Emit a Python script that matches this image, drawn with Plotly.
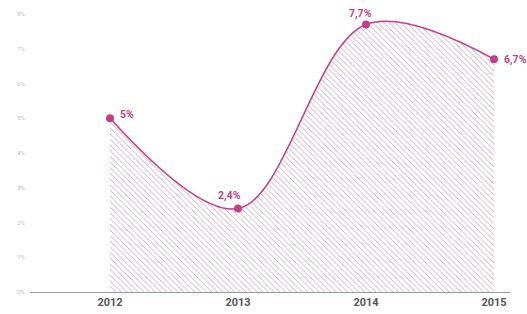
import plotly.graph_objects as go

years = [2012, 2013, 2014, 2015]
values = [5.0, 2.4, 7.7, 6.7]
labels = ["5%", "2,4%", "7,7%", "6,7%"]
y_ticks = [0, 1, 2, 3, 4, 5, 6, 7, 8]
y_tick_text = ["0%", "1%", "2%", "3%", "4%", "5%", "6%", "7%", "8%"]

pink = "#c2408a"

fig = go.Figure()
fig.add_trace(go.Scatter(
    x=years, y=values, mode="lines+markers",
    line=dict(color=pink, width=1.6, shape="spline", smoothing=1.0),
    marker=dict(color=pink, size=8),
    fill="tozeroy",
    fillcolor="rgba(0,0,0,0)",
    fillpattern=dict(shape="\\", fgcolor="#c8a2bc", bgcolor="white", size=4, solidity=0.22),
    cliponaxis=False,
    hoverinfo="skip",
))

offsets = [(8, 4, "left"), (-9, 13, "center"), (-6, 11, "center"), (8, 0, "left")]
for x, y, t, (dx, dy, xa) in zip(years, values, labels, offsets):
    fig.add_annotation(x=x, y=y, text=t, showarrow=False, xanchor=xa, yanchor="middle",
                       xshift=dx, yshift=dy,
                       font=dict(family="Roboto", size=10.5, color=pink, weight="bold"))

fig.update_layout(
    template="none",
    width=527, height=314,
    margin=dict(l=30, r=17, t=14, b=22, pad=0),
    paper_bgcolor="white", plot_bgcolor="white",
    showlegend=False,
    xaxis=dict(range=[2011.375, 2015.125], tickmode="array", tickvals=years,
               ticktext=[str(y) for y in years], showgrid=False, zeroline=False,
               showline=True, linecolor="#999", linewidth=1, ticks="", automargin=False,
               tickfont=dict(family="Roboto", size=11, color="#555", weight="bold")),
    yaxis=dict(range=[0, 8], tickmode="array", tickvals=y_ticks, ticktext=y_tick_text,
               showgrid=False, zeroline=False, showline=False, ticks="", automargin=False,
               tickfont=dict(family="Roboto", size=6, color="#bbb"), ticklabelstandoff=4),
)

fig.write_html("out.html", config={"displayModeBar": False},
               post_script="document.body.style.margin='0';document.body.style.overflow='hidden';")
